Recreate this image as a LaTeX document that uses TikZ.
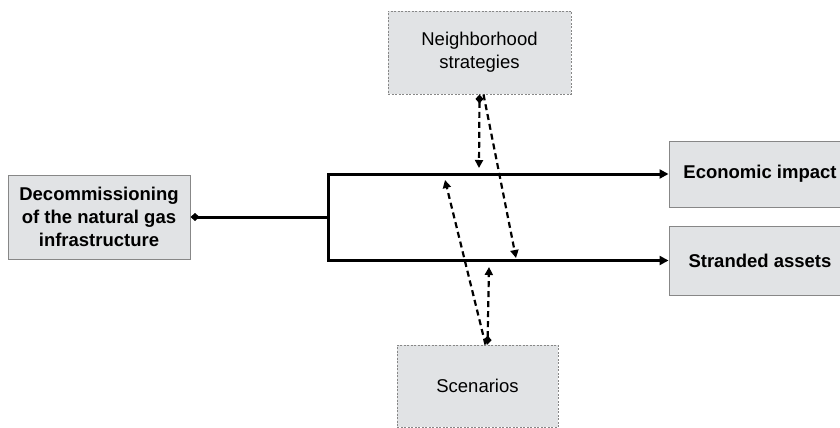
\documentclass[tikz,border=0pt]{standalone}
\usepackage{fontspec}
\setmainfont{Liberation Sans}
\usepackage{tikz}
\usetikzlibrary{arrows.meta,positioning}
\usepackage{xcolor}
\definecolor{boxgray}{RGB}{225,227,229}
\definecolor{edgegray}{RGB}{135,135,135}

\begin{document}
\begin{tikzpicture}
      [x=1pt, y=-1pt,
      font=\fontsize{18.5}{23}\selectfont,
      main box/.style={draw=edgegray, line width=1pt, rectangle, fill=boxgray, align=center, inner sep=0pt, font=\fontsize{18.5}{23}\selectfont\bfseries},
      side box/.style={draw=edgegray, dash pattern=on 2pt off 1.5pt, line width=0.9pt, rectangle, fill=boxgray, align=center, inner sep=0pt},
      flow/.style={draw, line width=3pt},
      link/.style={draw, line width=2.2pt, dash pattern=on 6pt off 4pt}
      ]
      \useasboundingbox (0,0) rectangle (840,428);

      \node[main box, minimum width=182pt, minimum height=84pt] (decom) at (99,217) {Decommissioning\\of the natural gas\\infrastructure};
      \node[main box, minimum width=182pt, minimum height=66pt] (econ) at (760,174) {Economic impact};
      \node[main box, minimum width=182pt, minimum height=69pt] (stranded) at (760,260.5) {Stranded assets};
      \node[side box, minimum width=183pt, minimum height=83pt] (neigh) at (479.5,52.5) {Neighborhood\\strategies};
      \node[side box, minimum width=161pt, minimum height=82pt] (scen) at (477.5,386) {Scenarios};

      \coordinate (split) at (328,217);
      \coordinate (split top) at (328,174);
      \coordinate (split bottom) at (328,260.5);
      \coordinate (econ tip) at (479,168);
      \coordinate (stranded tip) at (516,258);
      \coordinate (upper tip) at (445,180);
      \coordinate (lower tip) at (489,267);

      \draw[flow, {Diamond[length=9pt,width=8pt]}-] (decom.east) -- (split);
      \draw[flow, line cap=rect] (split top) -- (split bottom);
      \draw[flow, -{Triangle[length=9pt,width=9pt]}] (split top) -- (econ.west);
      \draw[flow, -{Triangle[length=9pt,width=9pt]}] (split bottom) -- (stranded.west);

      \draw[link, {Diamond[length=9pt,width=8pt]}-{Triangle[length=8pt,width=8pt]}] (neigh.south) -- (econ tip);
      \draw[link, -{Triangle[length=8pt,width=8pt]}] ([xshift=4pt]neigh.south) -- (stranded tip);
      \draw[link, {Diamond[length=9pt,width=8pt]}-{Triangle[length=8pt,width=8pt]}] ([xshift=10pt]scen.north) -- (lower tip);
      \draw[link, -{Triangle[length=8pt,width=8pt]}] ([xshift=8pt]scen.north) -- (upper tip);
\end{tikzpicture}
\end{document}
